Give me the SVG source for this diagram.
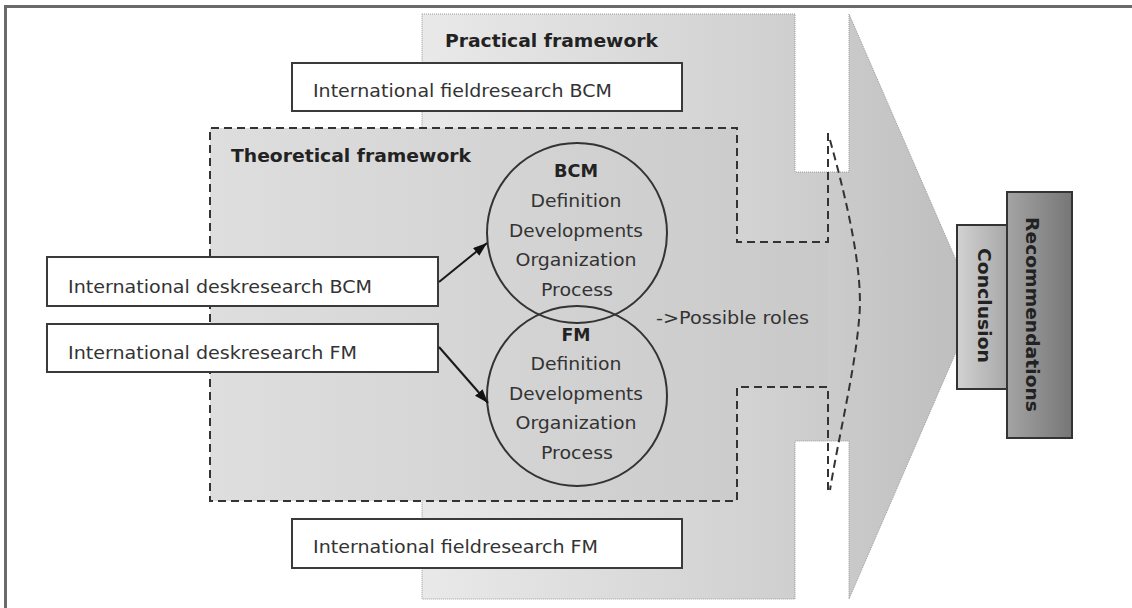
<svg xmlns="http://www.w3.org/2000/svg" width="1132" height="608" viewBox="0 0 1132 608">
<defs>
<style>
.t{font-family:"DejaVu Sans","Liberation Sans",sans-serif;font-size:18px;fill:#333}
.b{font-family:"DejaVu Sans","Liberation Sans",sans-serif;font-size:18px;font-weight:bold;fill:#222}
.box{fill:#fff;stroke:#3a3a3a;stroke-width:2}
.dash{fill:none;stroke:#333;stroke-width:2;stroke-dasharray:8 5}
.circ{fill:none;stroke:#333;stroke-width:2}
.arr{stroke:#1a1a1a;stroke-width:2;fill:none}
</style>
<linearGradient id="gP" gradientUnits="userSpaceOnUse" x1="422" y1="0" x2="976" y2="0">
<stop offset="0" stop-color="#e9e9e9"/>
<stop offset="0.65" stop-color="#d0d0d0"/>
<stop offset="1" stop-color="#bdbdbd"/>
</linearGradient>
<linearGradient id="gT" gradientUnits="userSpaceOnUse" x1="210" y1="0" x2="828" y2="0">
<stop offset="0" stop-color="#dedede"/>
<stop offset="1" stop-color="#c9c9c9"/>
</linearGradient>
<linearGradient id="gC" x1="0" y1="0" x2="1" y2="0">
<stop offset="0" stop-color="#d2d2d2"/>
<stop offset="1" stop-color="#a8a8a8"/>
</linearGradient>
<linearGradient id="gR" x1="0" y1="0" x2="1" y2="0">
<stop offset="0" stop-color="#a4a4a4"/>
<stop offset="1" stop-color="#767676"/>
</linearGradient>
<marker id="ah" markerUnits="userSpaceOnUse" markerWidth="16" markerHeight="12" refX="14" refY="5" orient="auto">
<path d="M0,0 L14,5 L0,10 Z" fill="#111"/>
</marker>
</defs>
<rect x="0" y="0" width="1132" height="608" fill="#fff"/>
<path d="M5.5,608 L5.5,6.5 L1132,6.5" fill="none" stroke="#6a6a6a" stroke-width="3"/>

<g id="practical-framework">
<path d="M422,14 L795,14 L795,172 L849,172 L849,14 L976,306 L849,599 L849,441 L795,441 L795,599 L422,599 Z" fill="url(#gP)" stroke="#9a9a9a" stroke-width="1" stroke-dasharray="1 1"/>
<text class="b" x="445" y="47" textLength="213" lengthAdjust="spacingAndGlyphs">Practical framework</text>
</g>

<g id="theoretical-framework">
<path d="M210,128 L737,128 L737,242 L828,242 L828,387 L737,387 L737,501 L210,501 Z" fill="url(#gT)"/>
<path class="dash" d="M828,133 L828,242 L737,242 L737,128 L210,128 L210,501 L737,501 L737,387 L828,387 L828,493"/>
<path class="dash" d="M830,140 C848,205 864,275 859,320 C855,370 838,440 830,490"/>
<text class="b" x="231" y="162" textLength="240" lengthAdjust="spacingAndGlyphs">Theoretical framework</text>
</g>

<g id="field-bcm">
<rect class="box" x="292" y="63" width="390" height="48"/>
<text class="t" x="313" y="97" textLength="299" lengthAdjust="spacingAndGlyphs">International fieldresearch BCM</text>
</g>

<g id="desk-bcm">
<rect class="box" x="47" y="257" width="391" height="49"/>
<text class="t" x="68" y="293" textLength="304" lengthAdjust="spacingAndGlyphs">International deskresearch BCM</text>
</g>

<g id="desk-fm">
<rect class="box" x="47" y="324" width="391" height="48"/>
<text class="t" x="68" y="359" textLength="289" lengthAdjust="spacingAndGlyphs">International deskresearch FM</text>
</g>

<g id="field-fm">
<rect class="box" x="292" y="519" width="390" height="49"/>
<text class="t" x="313" y="553" textLength="285" lengthAdjust="spacingAndGlyphs">International fieldresearch FM</text>
</g>

<g id="bcm-circle">
<circle class="circ" cx="577" cy="233" r="90"/>
<g text-anchor="middle">
<text class="b" x="576" y="177" textLength="44" lengthAdjust="spacingAndGlyphs">BCM</text>
<text class="t" x="576" y="207" textLength="91" lengthAdjust="spacingAndGlyphs">Definition</text>
<text class="t" x="576" y="237" textLength="134" lengthAdjust="spacingAndGlyphs">Developments</text>
<text class="t" x="576" y="266" textLength="121" lengthAdjust="spacingAndGlyphs">Organization</text>
<text class="t" x="577" y="296" textLength="72" lengthAdjust="spacingAndGlyphs">Process</text>
</g>
</g>

<g id="fm-circle">
<circle class="circ" cx="577" cy="396" r="90"/>
<g text-anchor="middle">
<text class="b" x="576" y="341" textLength="29" lengthAdjust="spacingAndGlyphs">FM</text>
<text class="t" x="576" y="370" textLength="91" lengthAdjust="spacingAndGlyphs">Definition</text>
<text class="t" x="576" y="400" textLength="134" lengthAdjust="spacingAndGlyphs">Developments</text>
<text class="t" x="576" y="429" textLength="121" lengthAdjust="spacingAndGlyphs">Organization</text>
<text class="t" x="577" y="459" textLength="72" lengthAdjust="spacingAndGlyphs">Process</text>
</g>
</g>

<g id="possible-roles">
<text class="t" x="656" y="324" textLength="153" lengthAdjust="spacingAndGlyphs">-&gt;Possible roles</text>
</g>

<g id="connectors">
<line class="arr" x1="439" y1="282" x2="487" y2="243" marker-end="url(#ah)"/>
<line class="arr" x1="439" y1="347" x2="488" y2="403" marker-end="url(#ah)"/>
</g>

<g id="conclusion">
<rect x="957" y="225" width="50" height="164" fill="url(#gC)" stroke="#333" stroke-width="2"/>
<text class="b" text-anchor="middle" transform="translate(978,305.5) rotate(90)" textLength="115" lengthAdjust="spacingAndGlyphs">Conclusion</text>
</g>

<g id="recommendations">
<rect x="1007" y="192" width="65" height="246" fill="url(#gR)" stroke="#333" stroke-width="2"/>
<text class="b" text-anchor="middle" transform="translate(1026,314.5) rotate(90)" textLength="195" lengthAdjust="spacingAndGlyphs">Recommendations</text>
</g>
</svg>
